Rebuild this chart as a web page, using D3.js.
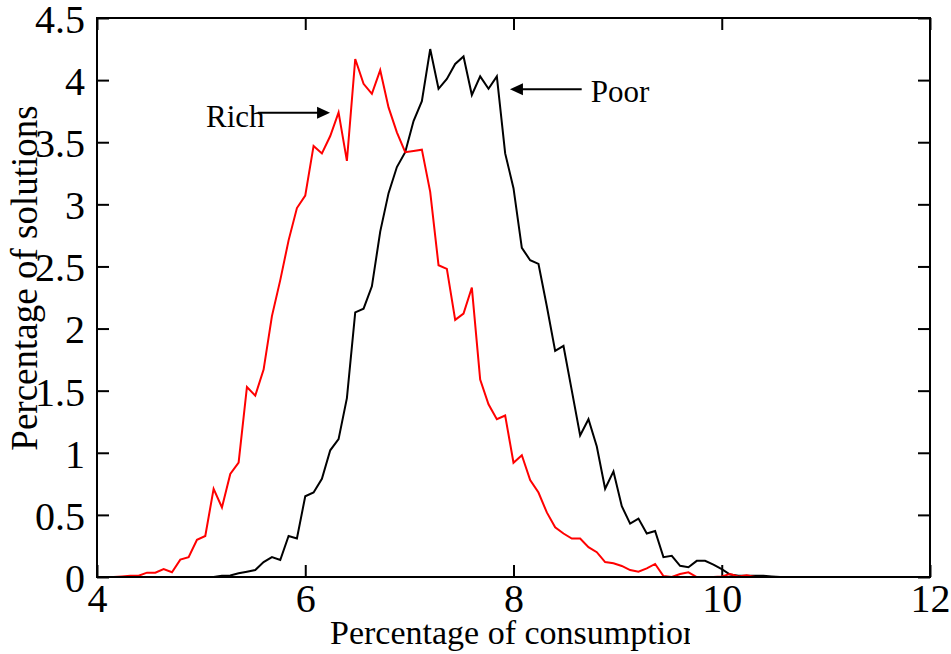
<!DOCTYPE html>
<html>
<head>
<meta charset="utf-8">
<script src="https://cdn.jsdelivr.net/npm/d3@7"></script>
<style>
  body { margin: 0; background: #fff; }
  svg { display: block; }
  text { font-family: "Liberation Serif", "Times New Roman", serif; fill: #000; }
</style>
</head>
<body>
<div id="chart"></div>
<script>
// consumption share bins (x) and percentage of solutions for each group
const consumption = [
  4.00, 4.08, 4.16, 4.24, 4.32, 4.40, 4.48, 4.56, 4.64, 4.72,
  4.80, 4.88, 4.96, 5.04, 5.12, 5.20, 5.28, 5.36, 5.44, 5.52,
  5.60, 5.68, 5.76, 5.84, 5.92, 6.00, 6.08, 6.16, 6.24, 6.32,
  6.40, 6.48, 6.56, 6.64, 6.72, 6.80, 6.88, 6.96, 7.04, 7.12,
  7.20, 7.28, 7.36, 7.44, 7.52, 7.60, 7.68, 7.76, 7.84, 7.92,
  8.00, 8.08, 8.16, 8.24, 8.32, 8.40, 8.48, 8.56, 8.64, 8.72,
  8.80, 8.88, 8.96, 9.04, 9.12, 9.20, 9.28, 9.36, 9.44, 9.52,
  9.60, 9.68, 9.76, 9.84, 9.92, 10.00, 10.08, 10.16, 10.24, 10.32,
  10.40, 10.48, 10.56, 10.64, 10.72, 10.80, 10.88, 10.96, 11.04, 11.12,
  11.20, 11.28, 11.36, 11.44, 11.52, 11.60, 11.68, 11.76, 11.84, 11.92,
  12.00
];

const rich = [
  0, 0, 0, 0.005, 0.01, 0.01, 0.035, 0.035, 0.064, 0.038,
  0.14, 0.16, 0.30, 0.33, 0.71, 0.56, 0.83, 0.92, 1.53, 1.46,
  1.67, 2.10, 2.39, 2.71, 2.97, 3.07, 3.47, 3.41, 3.55, 3.74,
  3.35, 4.17, 3.97, 3.89, 4.08, 3.78, 3.58, 3.42, 3.43, 3.44,
  3.10, 2.51, 2.48, 2.07, 2.12, 2.33, 1.59, 1.39, 1.27, 1.30,
  0.92, 0.98, 0.78, 0.68, 0.52, 0.40, 0.35, 0.31, 0.31, 0.24,
  0.20, 0.12, 0.11, 0.089, 0.056, 0.043, 0.07, 0.105, 0.008, 0,
  0.024, 0.038, 0, 0, 0, 0.005, 0.024, 0.005, 0.013, 0,
  0, 0, 0, 0, 0, 0, 0, 0, 0, 0,
  0, 0, 0, 0, 0, 0, 0, 0, 0, 0,
  0
];

const poor = [
  0, 0, 0, 0, 0, 0, 0, 0, 0, 0,
  0, 0, 0, 0, 0, 0.01, 0.013, 0.03, 0.043, 0.056,
  0.12, 0.16, 0.137, 0.33, 0.31, 0.65, 0.68, 0.79, 1.02, 1.11,
  1.44, 2.13, 2.16, 2.34, 2.78, 3.09, 3.30, 3.42, 3.67, 3.83,
  4.25, 3.93, 4.01, 4.13, 4.19, 3.88, 4.03, 3.93, 4.03, 3.41,
  3.13, 2.65, 2.55, 2.52, 2.18, 1.82, 1.86, 1.50, 1.14, 1.27,
  1.05, 0.71, 0.85, 0.57, 0.43, 0.47, 0.35, 0.37, 0.16, 0.17,
  0.09, 0.078, 0.13, 0.13, 0.10, 0.064, 0.02, 0.01, 0.01, 0.01,
  0.01, 0.005, 0, 0, 0, 0, 0, 0, 0, 0,
  0, 0, 0, 0, 0, 0, 0, 0, 0, 0,
  0
];

const xTicks = [4, 6, 8, 10, 12];
const yTicks = [0, 0.5, 1, 1.5, 2, 2.5, 3, 3.5, 4, 4.5];

// annotation labels with arrows (data coordinates)
const notes = [
  { label: "Rich", tx: 5.047, ty: 3.626, from: 5.546, to: 6.238, ay: 3.738 },
  { label: "Poor", tx: 8.741, ty: 3.824, from: 8.655, to: 7.966, ay: 3.927 }
];

const W = 951, H = 654;
const margin = { top: 18, right: 21, bottom: 77, left: 97 };
const width = W - margin.left - margin.right,
      height = H - margin.top - margin.bottom;
const serif = '"Liberation Serif", "Times New Roman", serif';

const svg = d3.select("#chart")
  .append("svg")
  .attr("width", W)
  .attr("height", H);

svg.append("defs").append("clipPath")
  .attr("id", "xlabclip")
  .append("rect")
  .attr("x", 0).attr("y", 560).attr("width", 690).attr("height", 94);

const g = svg.append("g")
  .attr("transform", `translate(${margin.left},${margin.top})`);

const x = d3.scaleLinear().domain([4, 12]).range([0, width]);
const y = d3.scaleLinear().domain([0, 4.5]).range([height, 0]);

// axes: inward ticks on all four sides
const axBottom = g.append("g")
  .attr("transform", `translate(0,${height})`)
  .call(d3.axisBottom(x).tickValues(xTicks).tickSizeInner(-12).tickSizeOuter(0).tickPadding(6));
const axTop = g.append("g")
  .call(d3.axisTop(x).tickValues(xTicks).tickSizeInner(-12).tickSizeOuter(0).tickFormat(""));
const axLeft = g.append("g")
  .call(d3.axisLeft(y).tickValues(yTicks).tickSizeInner(-12).tickSizeOuter(0).tickPadding(12)
    .tickFormat(d => d3.format("")(d)));
const axRight = g.append("g")
  .attr("transform", `translate(${width},0)`)
  .call(d3.axisRight(y).tickValues(yTicks).tickSizeInner(-12).tickSizeOuter(0).tickFormat(""));

[axBottom, axTop, axLeft, axRight].forEach(a => {
  a.attr("font-family", serif);
  a.select(".domain").remove();
  a.selectAll(".tick line").attr("stroke", "#000").attr("stroke-width", 2);
});
axBottom.selectAll(".tick text")
  .style("font-family", serif).style("font-size", "40px").attr("dy", "0.72em");
axLeft.selectAll(".tick text")
  .style("font-family", serif).style("font-size", "40px").attr("dy", "0.36em");

const lineGen = d3.line()
  .x((d, i) => x(consumption[i]))
  .y(d => y(d));

g.append("path")
  .datum(poor)
  .attr("fill", "none")
  .attr("stroke", "#000")
  .attr("stroke-width", 2)
  .attr("d", lineGen);

g.append("path")
  .datum(rich)
  .attr("fill", "none")
  .attr("stroke", "#ff0000")
  .attr("stroke-width", 2)
  .attr("d", lineGen);

// frame
g.append("rect")
  .attr("width", width)
  .attr("height", height)
  .attr("fill", "none")
  .attr("stroke", "#000")
  .attr("stroke-width", 2);

// annotations
notes.forEach(n => {
  g.append("text")
    .attr("x", x(n.tx))
    .attr("y", y(n.ty))
    .style("font-size", "31px")
    .text(n.label);
  const dir = n.to > n.from ? 1 : -1;
  const tipX = x(n.to), tipY = y(n.ay);
  g.append("line")
    .attr("x1", x(n.from)).attr("y1", tipY)
    .attr("x2", tipX - dir * 10).attr("y2", tipY)
    .attr("stroke", "#000").attr("stroke-width", 2);
  g.append("path")
    .attr("d", `M${tipX},${tipY} L${tipX - dir * 13},${tipY - 6} L${tipX - dir * 13},${tipY + 6} Z`)
    .attr("fill", "#000");
});

// axis titles
svg.append("text")
  .attr("x", 330)
  .attr("y", 644)
  .attr("clip-path", "url(#xlabclip)")
  .style("font-size", "34px")
  .text("Percentage of consumption");

svg.append("text")
  .attr("transform", "translate(37,278) rotate(-90)")
  .attr("text-anchor", "middle")
  .style("font-size", "37px")
  .text("Percentage of solutions");
</script>
</body>
</html>
